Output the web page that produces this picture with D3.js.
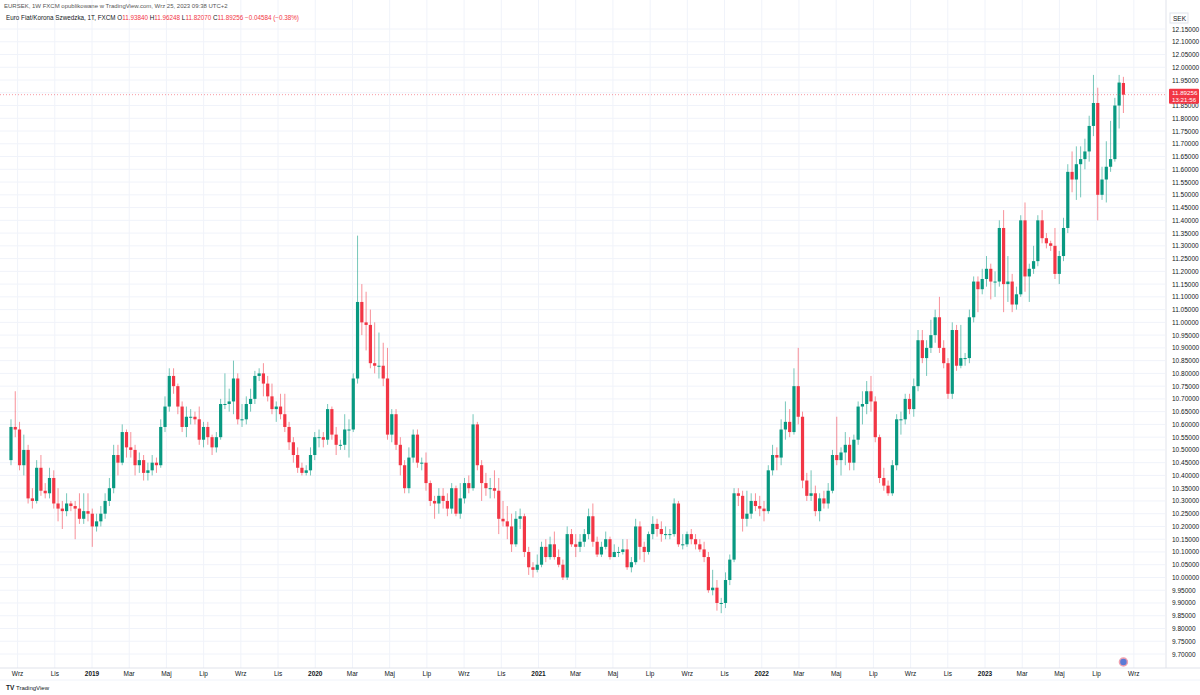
<!DOCTYPE html>
<html>
<head>
<meta charset="utf-8">
<script src="https://cdn.jsdelivr.net/npm/d3@7"></script>
<style>
  body { margin: 0; background: #fff; font-family: "Liberation Sans", Arial, sans-serif; }
</style>
</head>
<body>
<div id="chart"></div>
<script>
// Weekly EUR/SEK candles, Sep 2018 -> Sep 2023 (open = previous close)
const firstOpen = 10.46;
const lastOpen = 11.9384;
const closes = [
  10.59,10.58,10.44,10.50,10.31,10.30,10.43,10.34,10.33,10.39,10.29,10.27,10.26,10.29,10.28,10.27,10.23,10.26,10.25,10.20,
  10.22,10.25,10.30,10.35,10.48,10.45,10.57,10.51,10.50,10.44,10.46,10.41,10.42,10.45,10.44,10.59,10.67,10.79,10.75,10.67,
  10.59,10.63,10.63,10.62,10.54,10.59,10.55,10.51,10.55,10.68,10.68,10.69,10.78,
  10.62,10.62,10.68,10.70,10.79,10.80,10.76,10.71,10.66,10.67,10.64,10.59,10.53,10.48,10.43,10.41,10.42,10.48,10.55,10.55,
  10.54,10.66,10.56,10.52,10.52,10.58,10.58,10.78,11.08,11.00,10.99,10.84,10.83,10.83,10.78,10.56,10.64,10.52,10.44,10.35,
  10.47,10.56,10.45,10.45,10.37,10.30,10.29,10.32,10.30,10.27,10.35,10.25,10.31,10.37,10.35,
  10.60,10.44,10.37,10.35,10.35,10.34,10.23,10.22,10.20,10.13,10.23,10.24,10.10,10.04,10.03,10.05,10.12,10.08,10.13,10.08,
  10.05,10.00,10.17,10.13,10.12,10.14,10.17,10.24,10.14,10.09,10.12,10.15,10.08,10.10,10.10,10.11,10.04,10.06,10.20,10.12,
  10.10,10.17,10.21,10.19,10.17,10.17,10.17,10.29,10.13,10.13,10.17,10.15,10.13,10.11,10.08,9.95,9.96,9.90,9.90,
  9.99,10.07,10.33,10.32,10.23,10.25,10.30,10.28,10.27,10.26,10.42,10.48,10.47,10.58,10.61,10.57,10.75,10.63,10.38,10.32,
  10.33,10.26,10.31,10.29,10.34,10.48,10.46,10.49,10.52,10.45,10.54,10.67,10.68,10.73,10.69,10.55,10.39,10.36,10.33,10.44,
  10.62,10.62,10.70,10.66,10.75,10.93,10.86,10.90,10.95,11.02,10.90,10.84,10.72,
  10.97,10.83,10.86,10.86,11.02,11.16,11.13,11.17,11.21,11.16,11.16,11.37,11.15,11.16,11.07,11.11,11.40,11.18,11.21,11.24,
  11.40,11.33,11.31,11.30,11.19,11.26,11.37,11.59,11.56,11.62,11.64,11.67,11.77,11.86,11.50,11.56,11.61,11.64,11.85,11.94,
  11.89256
];
const highs = [
  10.62,10.73,10.61,10.56,10.52,10.35,10.46,10.48,10.37,10.43,10.42,10.35,10.30,10.33,10.30,10.30,10.33,10.33,10.33,10.27,
  10.25,10.28,10.33,10.39,10.52,10.52,10.60,10.58,10.57,10.52,10.49,10.48,10.45,10.48,10.47,10.62,10.71,10.82,10.82,10.76,
  10.69,10.67,10.66,10.65,10.67,10.61,10.61,10.56,10.57,10.70,10.80,10.74,10.85,
  10.80,10.68,10.71,10.74,10.81,10.82,10.84,10.79,10.76,10.69,10.72,10.72,10.61,10.55,10.51,10.45,10.44,10.51,10.57,10.58,
  10.57,10.68,10.67,10.59,10.54,10.64,10.62,10.80,11.34,11.15,11.12,11.05,11.00,10.96,10.92,10.90,10.66,10.66,10.55,10.46,
  10.51,10.58,10.58,10.47,10.49,10.38,10.32,10.35,10.35,10.33,10.37,10.36,10.37,10.39,10.40,
  10.64,10.61,10.46,10.41,10.39,10.42,10.39,10.30,10.28,10.25,10.26,10.27,10.25,10.12,10.06,10.09,10.14,10.15,10.16,10.18,
  10.11,10.07,10.20,10.19,10.17,10.17,10.19,10.27,10.29,10.16,10.14,10.18,10.16,10.13,10.12,10.15,10.15,10.08,10.23,10.22,
  10.14,10.18,10.24,10.23,10.22,10.20,10.19,10.31,10.30,10.17,10.18,10.19,10.17,10.15,10.14,10.10,10.03,9.99,9.92,
  10.02,10.09,10.35,10.35,10.34,10.34,10.33,10.33,10.32,10.30,10.44,10.52,10.51,10.62,10.69,10.66,10.82,10.90,10.65,10.41,
  10.42,10.36,10.33,10.34,10.37,10.50,10.63,10.51,10.57,10.55,10.56,10.69,10.73,10.77,10.79,10.71,10.56,10.43,10.38,10.46,
  10.64,10.65,10.72,10.72,10.78,10.97,10.97,10.93,11.01,11.05,11.10,10.93,10.86,
  11.00,10.99,10.99,10.88,11.05,11.18,11.18,11.21,11.26,11.23,11.20,11.40,11.44,11.26,11.19,11.14,11.42,11.47,11.23,11.30,
  11.42,11.44,11.35,11.32,11.37,11.28,11.41,11.62,11.67,11.69,11.69,11.72,11.81,11.97,11.92,11.61,11.71,11.79,11.88,11.97,
  11.96248
];
const lows = [
  10.44,10.55,10.42,10.40,10.29,10.27,10.29,10.32,10.31,10.31,10.27,10.22,10.19,10.24,10.26,10.15,10.21,10.21,10.22,10.12,
  10.18,10.20,10.23,10.28,10.33,10.40,10.44,10.47,10.47,10.40,10.41,10.38,10.38,10.40,10.41,10.43,10.57,10.65,10.72,10.64,
  10.57,10.55,10.60,10.60,10.52,10.51,10.52,10.48,10.49,10.54,10.66,10.65,10.64,
  10.60,10.59,10.60,10.65,10.68,10.77,10.71,10.69,10.64,10.61,10.62,10.57,10.50,10.45,10.41,10.40,10.40,10.40,10.46,10.51,
  10.51,10.52,10.54,10.48,10.50,10.50,10.47,10.57,10.76,10.95,10.89,10.82,10.80,10.78,10.75,10.54,10.53,10.50,10.40,10.33,
  10.33,10.45,10.43,10.42,10.34,10.28,10.23,10.25,10.27,10.24,10.25,10.24,10.23,10.29,10.33,
  10.34,10.42,10.30,10.32,10.31,10.31,10.17,10.20,10.15,10.10,10.12,10.19,10.08,10.01,10.00,10.02,10.04,10.06,10.07,10.07,
  10.04,9.99,9.99,10.12,10.08,10.10,10.12,10.15,10.12,10.08,10.08,10.11,10.07,10.08,10.08,10.09,10.03,10.02,10.05,10.07,
  10.06,10.09,10.15,10.16,10.14,10.15,10.15,10.16,10.12,10.11,10.12,10.13,10.11,10.10,10.06,9.94,9.93,9.87,9.86,
  9.88,9.97,10.06,10.28,10.18,10.20,10.23,10.26,10.24,10.22,10.25,10.40,10.42,10.44,10.54,10.55,10.56,10.60,10.35,10.30,
  10.30,10.24,10.22,10.27,10.27,10.33,10.44,10.40,10.44,10.42,10.42,10.52,10.60,10.64,10.65,10.53,10.37,10.34,10.32,10.32,
  10.42,10.56,10.60,10.64,10.63,10.73,10.84,10.79,10.88,10.92,10.88,10.82,10.70,
  10.70,10.81,10.82,10.83,10.84,11.00,11.04,11.11,11.14,11.09,11.10,11.14,11.04,11.08,11.04,11.05,11.10,11.12,11.08,11.19,
  11.22,11.31,11.29,11.28,11.17,11.15,11.24,11.35,11.51,11.48,11.49,11.60,11.63,11.73,11.40,11.48,11.47,11.59,11.63,11.76,
  11.82070
];
const yTicks = d3.range(9.70, 12.1501, 0.05);
const monthNames = ["Sty","Lut","Mar","Kwi","Maj","Cze","Lip","Sie","Wrz","Paź","Lis","Gru"];

const width = 1200, height = 695;
const plotRight = 1165, axisLeft = 1168, timeAxisY = 668;
const green = "#089981", red = "#F23645";

const svg = d3.select("#chart").append("svg")
  .attr("width", width).attr("height", height)
  .style("font-family", "'Liberation Sans', Arial, sans-serif");

// fractional-year x scale (calibrated to the time axis labels)
const x = d3.scaleLinear().domain([2019, 2023]).range([92, 985]);
const lastYear = 2023.62;
const n = closes.length;
const yearOf = i => lastYear - (n - 1 - i) * 7 / 365.25;

const y = d3.scaleLinear().domain([9.70, 12.15]).range([654, 29]);

// grid
svg.append("g").selectAll("line").data(yTicks).join("line")
  .attr("x1", 0).attr("x2", plotRight)
  .attr("y1", d => y(d)).attr("y2", d => y(d))
  .attr("stroke", "#f0f3fa").attr("stroke-width", 1);

const monthTicks = [];
for (let yr = 2018; yr <= 2023; yr++) {
  for (const m of [0, 2, 4, 6, 8, 10]) {
    const v = yr + m / 12;
    if (x(v) < 0 || x(v) > plotRight - 20) continue;
    monthTicks.push({ v, label: m === 0 ? String(yr) : monthNames[m], year: m === 0 });
  }
}
svg.append("g").selectAll("line").data(monthTicks).join("line")
  .attr("x1", d => x(d.v)).attr("x2", d => x(d.v))
  .attr("y1", 0).attr("y2", timeAxisY)
  .attr("stroke", "#f0f3fa");

// candles
const candles = closes.map((c, i) => ({
  o: i === 0 ? firstOpen : (i === n - 1 ? lastOpen : closes[i - 1]),
  c, h: highs[i], l: lows[i], t: yearOf(i)
}));
const g = svg.append("g");
g.selectAll("line").data(candles).join("line")
  .attr("x1", d => x(d.t)).attr("x2", d => x(d.t))
  .attr("y1", d => y(d.h)).attr("y2", d => y(d.l))
  .attr("stroke", d => d.c >= d.o ? green : red).attr("stroke-opacity", 0.55);
g.selectAll("rect").data(candles).join("rect")
  .attr("x", d => x(d.t) - 1.6).attr("width", 3.2)
  .attr("y", d => y(Math.max(d.o, d.c)))
  .attr("height", d => Math.max(1, Math.abs(y(d.o) - y(d.c))))
  .attr("fill", d => d.c >= d.o ? green : red);

// last price line
const last = candles[n - 1];
svg.append("line").attr("x1", 0).attr("x2", plotRight)
  .attr("y1", y(last.c)).attr("y2", y(last.c))
  .attr("stroke", red).attr("stroke-dasharray", "1,2").attr("stroke-opacity", 0.5);

// price axis
svg.append("line").attr("x1", plotRight + 1).attr("x2", plotRight + 1)
  .attr("y1", 0).attr("y2", timeAxisY).attr("stroke", "#e0e3eb");
svg.append("g").selectAll("text").data(yTicks).join("text")
  .attr("x", axisLeft + 4).attr("y", d => y(d) + 2.5)
  .attr("font-size", 6.5).attr("fill", "#131722")
  .text(d => d.toFixed(5));
svg.append("rect").attr("x", axisLeft + 2).attr("y", 13).attr("width", 18).attr("height", 10)
  .attr("fill", "#fff").attr("stroke", "#e0e3eb");
svg.append("text").attr("x", axisLeft + 5).attr("y", 20.5).attr("font-size", 6.5).attr("fill", "#131722").text("SEK");
svg.append("rect").attr("x", axisLeft + 1).attr("y", y(last.c) - 6).attr("width", 30).attr("height", 15)
  .attr("fill", red).attr("rx", 1);
svg.append("text").attr("x", axisLeft + 4).attr("y", y(last.c) + 0.5).attr("font-size", 6.2).attr("fill", "#fff").text("11.89256");
svg.append("text").attr("x", axisLeft + 4).attr("y", y(last.c) + 7).attr("font-size", 6.2).attr("fill", "#fff").text("13:21:56");

// time axis
svg.append("line").attr("x1", 0).attr("x2", width).attr("y1", timeAxisY).attr("y2", timeAxisY).attr("stroke", "#e0e3eb");
svg.append("line").attr("x1", 0).attr("x2", width).attr("y1", 680).attr("y2", 680).attr("stroke", "#f0f3fa");
svg.append("g").selectAll("text").data(monthTicks).join("text")
  .attr("x", d => x(d.v)).attr("y", 676).attr("text-anchor", "middle")
  .attr("font-size", 6.5).attr("font-weight", d => d.year ? "bold" : "normal").attr("fill", "#131722")
  .text(d => d.label);
svg.append("circle").attr("cx", x(lastYear)).attr("cy", 662).attr("r", 4)
  .attr("fill", "#5b7bd6").attr("stroke", "#f0a0b0").attr("stroke-width", 1.5);

// header
svg.append("text").attr("x", 4).attr("y", 8).attr("font-size", 6).attr("fill", "#555")
  .text("EURSEK, 1W FXCM opublikowane w TradingView.com, Wrz 25, 2023 09:38 UTC+2");
const hdr = svg.append("text").attr("x", 6).attr("y", 20).attr("font-size", 6.3).attr("fill", "#131722");
hdr.append("tspan").text("Euro Fiat/Korona Szwedzka, 1T, FXCM  ");
[["O", "11.93840"], ["H", "11.96248"], ["L", "11.82070"], ["C", "11.89256"]].forEach(([k, v]) => {
  hdr.append("tspan").text(k);
  hdr.append("tspan").attr("fill", red).text(v + "  ");
});
hdr.append("tspan").attr("fill", red).text("−0.04584 (−0.38%)");

// logo
svg.append("text").attr("x", 6).attr("y", 690).attr("font-size", 6.5).attr("fill", "#131722")
  .attr("font-weight", "bold").text("TV");
svg.append("text").attr("x", 16).attr("y", 690).attr("font-size", 6).attr("fill", "#131722").text("TradingView");
</script>
</body>
</html>
